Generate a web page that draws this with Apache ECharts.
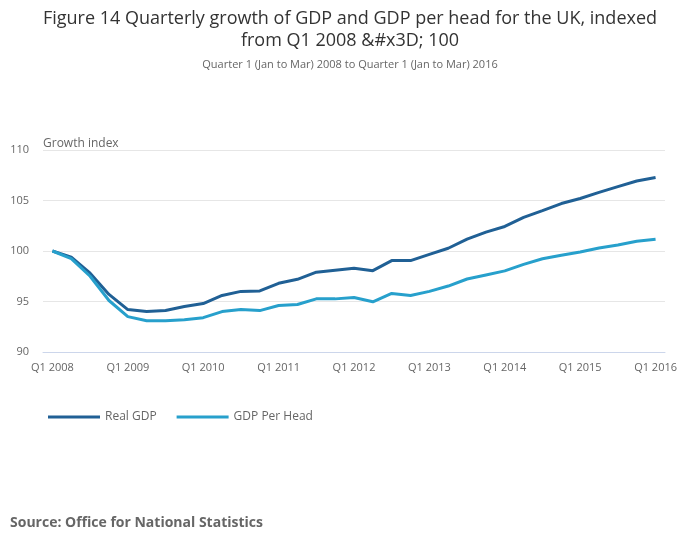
<!DOCTYPE html>
<html>
<head>
<meta charset="utf-8">
<script src="https://cdn.jsdelivr.net/npm/echarts@6/dist/echarts.min.js"></script>
<style>html,body{margin:0;padding:0;background:#fff}#c{width:700px;height:549px}</style>
</head>
<body>
<div id="c"></div>
<script>
var quarters = [];
var years = [2008,2009,2010,2011,2012,2013,2014,2015,2016];
years.forEach(function(y){ ['Q1','Q2','Q3','Q4'].forEach(function(q){ quarters.push(q + ' ' + y); }); });
quarters = quarters.slice(0, 33);

var realGDP = [100.0, 99.4, 97.8, 95.7, 94.2, 94.0, 94.1, 94.5, 94.8, 95.6, 96.0, 96.05, 96.8, 97.2, 97.9, 98.1, 98.3, 98.05, 99.05, 99.05, 99.67, 100.27, 101.17, 101.87, 102.43, 103.33, 104.0, 104.7, 105.2, 105.8, 106.37, 106.93, 107.27];
var gdpPerHead = [100.0, 99.25, 97.5, 95.1, 93.5, 93.1, 93.1, 93.2, 93.4, 94.0, 94.2, 94.1, 94.6, 94.7, 95.26, 95.26, 95.4, 94.97, 95.8, 95.6, 96.0, 96.53, 97.23, 97.63, 98.03, 98.67, 99.23, 99.57, 99.9, 100.3, 100.6, 100.97, 101.17];

var chart = echarts.init(document.getElementById('c'));
var font = '"Open Sans", sans-serif';
chart.setOption({
  animation: false,
  textStyle: { fontFamily: font },
  title: [{
    text: 'Figure 14 Quarterly growth of GDP and GDP per head for the UK, indexed\nfrom Q1 2008 &#x3D; 100',
    left: 'center', top: 3,
    textStyle: { fontSize: 18, fontWeight: 'normal', color: '#333', fontFamily: font, lineHeight: 22, align: 'center' },
    subtext: 'Quarter 1 (Jan to Mar) 2008 to Quarter 1 (Jan to Mar) 2016',
    subtextStyle: { fontSize: 11, color: '#666', fontFamily: font, align: 'center' },
    itemGap: 7
  }, {
    text: 'Source: Office for National Statistics',
    left: 5, top: 511,
    textStyle: { fontSize: 14, fontWeight: 'bold', color: '#666', fontFamily: font }
  }],
  legend: {
    left: 48, top: 411, padding: 0,
    itemWidth: 52, itemHeight: 3, itemGap: 20,
    icon: 'rect',
    textStyle: { fontSize: 12, color: '#666', fontFamily: font },
    data: ['Real GDP', 'GDP Per Head']
  },
  grid: { left: 43, right: 35, top: 150, bottom: 197, containLabel: false },
  xAxis: {
    type: 'category', data: quarters, boundaryGap: true,
    axisLine: { lineStyle: { color: '#ccd6eb' } },
    axisTick: { alignWithLabel: true, interval: 3, length: 8, lineStyle: { color: '#ccd6eb' } },
    axisLabel: { interval: 3, color: '#666', fontSize: 11, margin: 10, fontFamily: font },
    splitLine: { show: false }
  },
  yAxis: {
    type: 'value', min: 90, max: 110, interval: 5,
    name: 'Growth index', nameLocation: 'end', nameGap: 0,
    nameTextStyle: { align: 'left', color: '#666', fontSize: 12, fontFamily: font },
    axisLine: { show: false }, axisTick: { show: false },
    axisLabel: { color: '#666', fontSize: 11, margin: 14, fontFamily: font },
    splitLine: { lineStyle: { color: '#e6e6e6' } }
  },
  series: [{
    name: 'Real GDP', type: 'line', data: realGDP, showSymbol: false, symbol: 'none',
    lineStyle: { width: 3, color: '#206095' }, itemStyle: { color: '#206095' }
  }, {
    name: 'GDP Per Head', type: 'line', data: gdpPerHead, showSymbol: false, symbol: 'none',
    lineStyle: { width: 3, color: '#27a0cc' }, itemStyle: { color: '#27a0cc' }
  }]
});
</script>
</body>
</html>
